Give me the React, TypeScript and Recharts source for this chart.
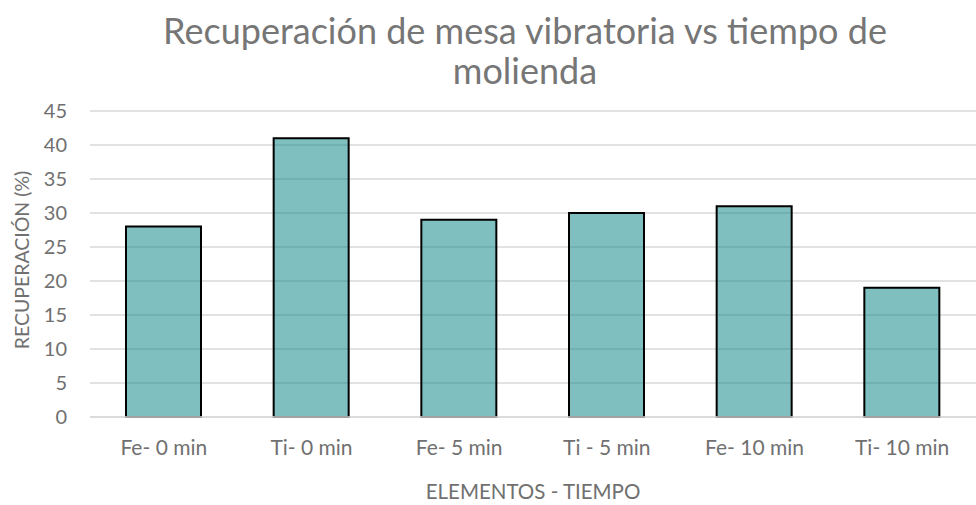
import { BarChart, Bar, XAxis, YAxis, CartesianGrid } from "recharts";

const categories = ["Fe- 0 min", "Ti- 0 min", "Fe- 5 min", "Ti - 5 min", "Fe- 10 min", "Ti- 10 min"];
const recovery = [28, 41, 29, 30, 31, 19];
const yTicks = [0, 5, 10, 15, 20, 25, 30, 35, 40, 45];

const data = categories.map((name, i) => ({ name, value: recovery[i] }));

const FONT = "Lato, 'Open Sans', sans-serif";
const TITLE_GRAY = "#767676";
const GRAY = "#707070";

export default function App() {
  return (
    <div style={{ position: "fixed", left: 0, top: 0, width: 976, height: 505, background: "#fff", fontFamily: FONT }}>
      <div
        style={{
          position: "absolute",
          left: 0,
          top: 10,
          width: 1050,
          textAlign: "center",
          color: TITLE_GRAY,
          fontSize: 36,
          lineHeight: "40px",
        }}
      >
        Recuperación de mesa vibratoria vs tiempo de
        <br />
        molienda
      </div>
      <BarChart
        width={976}
        height={505}
        data={data}
        margin={{ top: 111, right: 0, left: 0, bottom: 0 }}
        barSize={75}
      >
        <CartesianGrid vertical={false} stroke="#d9d9d9" strokeWidth={1.5} />
        <XAxis
          dataKey="name"
          height={88}
          axisLine={{ stroke: "#d9d9d9", strokeWidth: 1.5 }}
          tickLine={false}
          tickSize={0}
          tickMargin={23}
          tick={{ fill: GRAY, fontSize: 21, fontFamily: FONT }}
          interval={0}
        />
        <YAxis
          width={90}
          domain={[0, 45]}
          ticks={yTicks}
          axisLine={false}
          tickLine={false}
          tickSize={0}
          tickMargin={23}
          tick={{ fill: GRAY, fontSize: 20, fontFamily: FONT }}
        />
        <Bar
          dataKey="value"
          fill="#008080"
          fillOpacity={0.5}
          stroke="#000"
          strokeWidth={2}
          isAnimationActive={false}
        />
      </BarChart>
      <div
        style={{
          position: "absolute",
          left: 233,
          top: 479,
          width: 600,
          textAlign: "center",
          color: GRAY,
          fontSize: 20.5,
          lineHeight: "24px",
        }}
      >
        ELEMENTOS - TIEMPO
      </div>
      <div
        style={{
          position: "absolute",
          left: 22 - 150,
          top: 260 - 12,
          width: 300,
          height: 24,
          textAlign: "center",
          color: GRAY,
          fontSize: 19.5,
          lineHeight: "24px",
          transform: "rotate(-90deg)",
          transformOrigin: "50% 50%",
        }}
      >
        RECUPERACIÓN (%)
      </div>
    </div>
  );
}
